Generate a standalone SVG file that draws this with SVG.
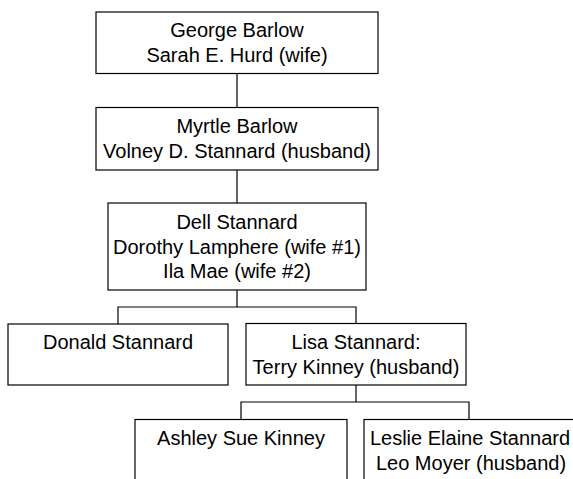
<svg xmlns="http://www.w3.org/2000/svg" width="573" height="479" viewBox="0 0 573 479">
<style>
.box{fill:#fff;stroke:#000;stroke-width:1.2}
.con{fill:none;stroke:#000;stroke-width:1.2}
text{font-family:"Liberation Sans",Arial,sans-serif;font-size:20px;fill:#000;text-anchor:middle}
</style>
<rect width="573" height="479" fill="#fff"/>
<g id="connectors">
<path class="con" d="M237 73.5V107.5M237 170V203M237 290V307H118V324M237 307H356V323.5M356 385V402H241V419.5M356 402H469V419.5"/>
</g>
<g id="george">
<rect class="box" x="96" y="12" width="282" height="61.5"/>
<text x="237" y="37">George Barlow</text>
<text x="237" y="62">Sarah E. Hurd (wife)</text>
</g>
<g id="myrtle">
<rect class="box" x="96" y="107.5" width="282" height="62.5"/>
<text x="237" y="133">Myrtle Barlow</text>
<text x="237" y="158">Volney D. Stannard (husband)</text>
</g>
<g id="dell">
<rect class="box" x="108" y="203" width="258" height="87"/>
<text x="237" y="229">Dell Stannard</text>
<text x="237" y="253.5">Dorothy Lamphere (wife #1)</text>
<text x="237" y="278">Ila Mae (wife #2)</text>
</g>
<g id="donald">
<rect class="box" x="8" y="324" width="220" height="61"/>
<text x="118" y="348.5">Donald Stannard</text>
</g>
<g id="lisa">
<rect class="box" x="246" y="323.5" width="220" height="61.5"/>
<text x="356" y="348.5">Lisa Stannard:</text>
<text x="356" y="373.5">Terry Kinney (husband)</text>
</g>
<g id="ashley">
<rect class="box" x="135" y="419.5" width="212" height="70"/>
<text x="241" y="445">Ashley Sue Kinney</text>
</g>
<g id="leslie">
<rect class="box" x="364" y="419.5" width="212" height="70"/>
<text x="470" y="445">Leslie Elaine Stannard</text>
<text x="471" y="470">Leo Moyer (husband)</text>
</g>
</svg>
